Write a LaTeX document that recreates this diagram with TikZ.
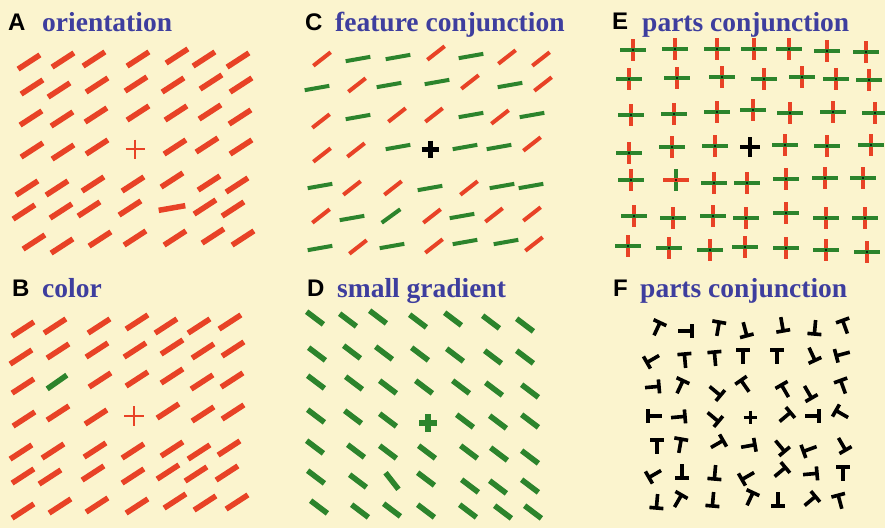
\documentclass[tikz,border=0pt]{standalone}
\usepackage{fontspec}
\setmainfont{Liberation Serif}
\newfontfamily\labelfont{Liberation Sans}

\definecolor{paper}{RGB}{251,244,206}
\definecolor{barred}{RGB}{232,66,38}
\definecolor{bargreen}{RGB}{44,132,44}
\definecolor{titleblue}{RGB}{62,62,158}

\tikzset{
  panelletter/.style={anchor=base west, inner sep=0pt, text=black,
    font=\labelfont\bfseries\fontsize{24}{26}\selectfont},
  paneltitle/.style={anchor=base west, inner sep=0pt, text=titleblue,
    font=\bfseries\fontsize{27.5}{30}\selectfont},
  thickred/.style={draw=barred, line width=5.5},
  thinred/.style={draw=barred, line width=4},
  thickgreen/.style={draw=bargreen, line width=5.5},
  thingreen/.style={draw=bargreen, line width=4},
  thinplus/.style={draw=barred, line width=2.5},
  tshape/.style={draw=black, line width=3.6},
}

% one straight bar: style, centre x, centre y, angle, length
\newcommand\strokebar[5]{%
  \draw[#1, shift={(#2,#3)}, rotate=#4] (-#5/2,0) -- (#5/2,0);}
% a plus sign: style, centre x, centre y, arm length
\newcommand\plussign[4]{%
  \draw[#1] (#2-#4/2,#3) -- (#2+#4/2,#3) (#2,#3-#4/2) -- (#2,#3+#4/2);}
% a T: centre x, centre y, angle
\newcommand\tletter[3]{%
  \draw[tshape, shift={(#1,#2)}, rotate=#3]
    (-7,-7) -- (7,-7) (0,-7) -- (0,7);}

\begin{document}
\begin{tikzpicture}[x=1pt, y=-1pt]
\useasboundingbox (0,0) rectangle (885,528);
\fill[paper] (0,0) rectangle (885,528);
\clip (0,0) rectangle (885,528);

% ---------- titles ----------
\node[panelletter] (letA) at (8,30)   {A};
\node[paneltitle]  (ttlA) at (42,31)  {orientation};
\node[panelletter] (letB) at (12,296) {B};
\node[paneltitle]  (ttlB) at (42,297) {color};
\node[panelletter] (letC) at (305,30) {C};
\node[paneltitle]  (ttlC) at (335,31) {feature conjunction};
\node[panelletter] (letD) at (307,296) {D};
\node[paneltitle]  (ttlD) at (337,297) {small gradient};
\node[panelletter] (letE) at (612,29) {E};
\node[paneltitle]  (ttlE) at (642,31) {parts conjunction};
\node[panelletter] (letF) at (613,296) {F};
\node[paneltitle]  (ttlF) at (640,297) {parts conjunction};

% ---------- A: orientation ----------
\foreach \x/\y in {29/62, 63/60, 94/59, 138/59, 177/56, 204/59, 238/60,
  32/87, 59/90, 97/85, 136/84, 173/85, 211/82, 241/85,
  31/118, 62/119, 96/115, 138/113, 176/113, 210/112, 240/117,
  32/150, 63/152, 97/147, 175/147, 207/145, 241/147,
  27/188, 57/188, 93/184, 133/184, 172/180, 209/183, 237/185,
  24/212, 61/211, 89/209, 130/208, 205/207, 233/209,
  34/242, 62/246, 100/239, 135/238, 175/238, 213/236, 243/238}
  {\strokebar{thickred}{\x}{\y}{33}{26}}
\strokebar{thickred}{172}{208}{10}{27}
\plussign{thinplus}{135}{149}{19}

% ---------- B: color ----------
\foreach \x/\y in {23/329, 55/326, 99/326, 137/322, 166/326, 199/326, 230/322,
  21/357, 58/351, 97/350, 135/350, 172/347, 203/351, 233/349,
  23/386, 100/380, 137/379, 172/376, 202/382, 232/380,
  24/419, 58/413, 96/417, 168/411, 203/414, 233/412,
  21/452, 53/451, 95/450, 133/451, 172/449, 199/452, 229/448,
  23/476, 50/477, 93/473, 133/476, 168/472, 196/474, 227/473,
  23/511, 60/506, 97/505, 137/506, 175/501, 205/503, 237/502}
  {\strokebar{thickred}{\x}{\y}{33}{26}}
\strokebar{thickgreen}{57}{382}{35}{24}
\plussign{thinplus}{134}{416}{20}

% ---------- C: feature conjunction ----------
\foreach \x/\y in {322/59, 436/53, 507/57, 541/59,
  357/85, 470/82, 543/84,
  321/121, 397/115, 434/115, 500/117,
  322/155, 356/150, 532/144,
  352/188, 393/188, 469/188,
  321/216, 432/216, 494/215, 532/214,
  358/247, 434/246, 534/244}
  {\strokebar{thinred}{\x}{\y}{38}{22}}
\foreach \x/\y in {358/59, 398/57, 471/56,
  317/88, 389/85, 437/82, 510/85,
  358/117, 471/115, 532/115,
  398/147, 465/147, 499/147,
  320/186, 430/188, 502/186, 531/186,
  352/218, 462/216,
  320/248, 392/246, 465/242, 506/242}
  {\strokebar{thingreen}{\x}{\y}{10}{25}}
\strokebar{thingreen}{391}{216}{36}{23}
\plussign{draw=black, line width=5}{430}{149}{17}

% ---------- D: small gradient ----------
\foreach \x/\y in {315/318, 348/320, 378/317, 418/321, 453/319, 491/322, 525/325,
  317/354, 352/352, 384/353, 420/354, 455/355, 493/357, 525/357,
  316/382, 354/383, 388/387, 424/387, 461/387, 494/389, 530/391,
  316/416, 353/417, 388/420, 465/421, 498/422, 530/421,
  315/447, 356/451, 388/452, 427/452, 469/452, 499/454, 530/457,
  316/477, 358/481, 426/479, 470/486, 498/487, 530/486,
  319/507, 360/511, 392/510, 426/511, 468/511, 503/512, 533/512}
  {\strokebar{thickgreen}{\x}{\y}{-37}{21}}
\strokebar{thickgreen}{392}{481}{-52}{21}
\plussign{draw=bargreen, line width=5.5}{428}{423}{18}

% ---------- E: parts conjunction (crosses) ----------
\foreach \x/\y in {633/50, 675/49, 717/49, 754/49, 789/49, 827/51, 866/52,
  629/79, 677/78, 722/77, 764/79, 802/77, 836/79, 869/80,
  631/115, 674/114, 717/112, 753/110, 790/113, 833/112, 875/113,
  629/153, 672/147, 715/146, 785/145, 827/146, 871/145,
  631/180, 714/183, 747/183, 786/179, 825/178, 863/178,
  634/216, 673/218, 713/216, 746/218, 786/213, 826/218, 865/218,
  628/246, 669/248, 710/250, 745/247, 786/248, 826/250, 867/252}
{
  \draw[thinred] (\x,\y-11) -- (\x,\y+11);
  \draw[thingreen] (\x-13,\y) -- (\x+13,\y);
  \fill[black] (\x,\y) circle (1.2);
}
\draw[thingreen] (676,169) -- (676,191);
\draw[thinred] (663,180) -- (689,180);
\fill[black] (676,180) circle (1.2);
\plussign{draw=black, line width=4}{750}{147}{20}

% ---------- F: parts conjunction (T shapes) ----------
\foreach \x/\y/\a in {657/329/-25, 685/331/-90, 718/329/-10, 745/329/195,
  782/324/190, 815/327/175, 845/327/20,
  653/359/120, 685/361/5, 715/359/5, 743/357/0, 777/357/0, 812/354/205, 843/354/105,
  652/387/-85, 680/387/-25, 715/391/230, 745/386/35, 785/391/30, 808/392/210, 843/387/20,
  655/416/90, 678/417/-85, 713/417/230, 785/417/-50, 812/416/-90, 842/414/60,
  657/447/0, 680/446/-10, 717/444/-60, 748/446/-80, 780/446/220, 810/449/110, 842/444/210,
  655/474/120, 682/471/180, 715/472/175, 748/476/120, 780/472/-50, 810/474/-85, 843/474/0,
  657/501/175, 678/501/-30, 713/499/175, 750/499/-25, 778/499/180, 810/501/-50, 840/502/15}
  {\tletter{\x}{\y}{\a}}
\plussign{draw=black, line width=3}{750}{417}{13}
\end{tikzpicture}
\end{document}
